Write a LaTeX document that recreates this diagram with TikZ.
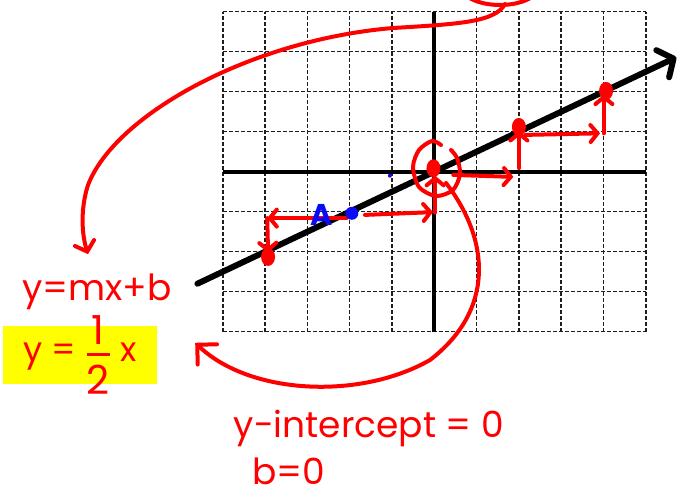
\documentclass[tikz,border=0pt]{standalone}
\usepackage{fontspec}
\usepackage{amsmath}
\setmainfont{Poppins}
\usetikzlibrary{calc,arrows.meta}
\definecolor{penRed}{RGB}{255,0,0}
\definecolor{penBlue}{RGB}{10,10,245}
\definecolor{markYellow}{RGB}{255,255,0}
\definecolor{gridInk}{RGB}{30,30,30}
\tikzset{
  pen/.style={penRed,line width=4pt,line cap=round,line join=round},
  penarrow/.style={pen,-{Straight Barb[length=7pt,width=17pt,line cap=round]}},
  hand/.style={text=penRed,inner sep=0pt},
  gridline/.style={gridInk,line width=1.5pt,dash pattern=on 4pt off 2pt}
}
\newcommand{\PenDot}[1]{\fill[penRed] (#1) ellipse [x radius=7pt,y radius=9pt];}
\newcommand{\Hand}[1]{\fontsize{#1}{#1}\selectfont}

\begin{document}
\begin{tikzpicture}[x=1pt,y=-1pt]
\clip (0,0) rectangle (680,498);
\begin{scope}[shift={(434.3,171.7)},x=42.3pt,y=40pt]
  \foreach \i in {-5,...,5} \draw[gridline] (\i,-4) -- (\i,4);
  \foreach \j in {-4,...,4} \draw[gridline] (-5,\j) -- (5,\j);
  \draw[line width=4pt] (-5,0) -- (5,0) (0,-4) -- (0,4);
  \draw[line width=6pt,line cap=round,-{Straight Barb[length=12pt,width=30pt,line cap=round,line join=round]}] (-5.6,-2.8) -- (5.72,2.86);
  \coordinate (o) at (-0.02,0.085);
  \coordinate (m4) at (-3.93,-2.13);
  \coordinate (p2) at (2,1.12);
  \coordinate (p4) at (4.06,2.02);
  \coordinate (bluept) at (-1.95,-1.04);
  \coordinate (cL) at (-3.95,-1.16);
  \coordinate (cO) at (-0.03,-1.01);
  \draw[penarrow] (-2.07,-1.16) -- (cL);
  \draw[penarrow] (cL) -- (-3.93,-2.02);
  \draw[penarrow] (-1.64,-1.08) -- (cO);
  \draw[penarrow] (0.02,-1.02) -- (0.02,-0.1);
  \draw[penarrow] (0.45,-0.08) -- (1.87,-0.13);
  \draw[penarrow] (2,0.09) -- (2,1.02);
  \draw[penarrow] (2.15,0.92) -- (3.92,0.96);
  \draw[penarrow] (4.01,0.96) -- (4.01,1.93);
  \PenDot{o}
  \PenDot{m4}
  \PenDot{p2}
  \PenDot{p4}
  \fill[penBlue] (bluept) circle (6.5pt);
  \fill[penBlue] (-1.05,-0.1) circle (2pt);
  \node[text=penBlue,inner sep=0pt,font=\bfseries\Hand{30}] (labelA) at (-2.66,-1.085) {A};
\end{scope}
\draw[pen] plot[smooth] coordinates {(441,145) (432,141) (419,150) (413,167) (419,187) (436,196) (453,190) (460,174) (457,158) (451,150)};
\draw[pen] (500,-15) ellipse [x radius=40,y radius=20];
\node[hand,anchor=base,font=\Hand{36}] (slopeform) at (97,300) {y=mx+b};
\node[fill=markYellow,minimum width=154pt,minimum height=58pt,inner sep=0pt] (eqn) at (80,355) {};
\node[hand,font=\Hand{34}] (eqntext) at (eqn.center) {y = $\genfrac{}{}{3pt}{0}{\mbox{\Hand{40}1}}{\mbox{\Hand{40}2}}$ x};
\node[hand,anchor=base,font=\Hand{36}] (intercept) at (369,437) {y-intercept = 0};
\node[hand,anchor=base,font=\Hand{36}] (bzero) at (289,484) {b=0};
\draw[pen,-{Straight Barb[length=9pt,width=20pt,line cap=round]}] (505,4) .. controls (495,22) and (460,24) .. (393,28) .. controls (250,40) and (115,115) .. (88,185) .. controls (80,210) and (82,235) .. ([xshift=-9pt,yshift=19pt]slopeform.north);
\draw[pen,-{Straight Barb[length=14pt,width=28pt,line cap=round]}] (446,183) .. controls (490,240) and (495,310) .. (430,360) .. controls (360,400) and (250,395) .. ([xshift=38pt,yshift=-17pt]eqn.north east);
\end{tikzpicture}
\end{document}
